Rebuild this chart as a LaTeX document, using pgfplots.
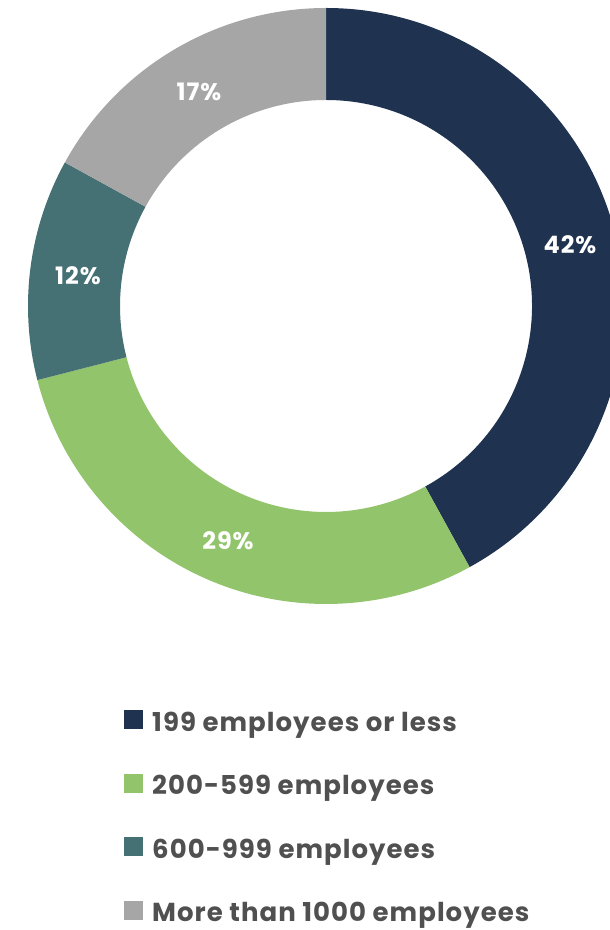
\documentclass[border=0pt]{standalone}
\usepackage{pgfplots}
\pgfplotsset{compat=1.18}
\usepackage{pgfplotstable}
\usepackage{fontspec}
\setmainfont{Poppins}
\newfontfamily\legfont[LetterSpace=4]{Poppins}
\definecolor{cA}{HTML}{1F3350}
\definecolor{cB}{HTML}{92C46C}
\definecolor{cC}{HTML}{457074}
\definecolor{cD}{HTML}{A6A6A6}
\definecolor{txt}{HTML}{505050}
% share (%) of each group, clockwise from 12 o'clock
\pgfplotstableread{
label share
A 42
B 29
C 12
D 17
}\sharetable
\def\Ro{298}
\def\Ri{206}
\begin{document}
\begin{tikzpicture}
\begin{axis}[
  scale only axis, width=610pt, height=930pt,
  xmin=-326, xmax=284, ymin=-624, ymax=306,
  hide axis, clip=true,
  legend style={at={(axis cs:-202,-404)}, anchor=north west, draw=none, fill=none,
    inner sep=0pt, row sep=38.5pt,
    font=\legfont\fontsize{26}{30}\selectfont\bfseries\color{txt},
    nodes={inner sep=0pt, text height=19pt, text depth=4pt},
    /tikz/every odd column/.append style={column sep=9pt}},
  legend cell align=left,
  legend image code/.code={\fill[#1, draw=none] (0pt,-5.5pt) rectangle (19pt,13.5pt);},
]
% slices: start angle 90, clockwise; angle = share*3.6
\pgfplotstablegetelem{0}{share}\of\sharetable \let\sA\pgfplotsretval
\pgfplotstablegetelem{1}{share}\of\sharetable \let\sB\pgfplotsretval
\pgfplotstablegetelem{2}{share}\of\sharetable \let\sC\pgfplotsretval
\pgfplotstablegetelem{3}{share}\of\sharetable \let\sD\pgfplotsretval
\pgfmathsetmacro\aA{90}
\pgfmathsetmacro\aB{90-\sA*3.6}
\pgfmathsetmacro\aC{\aB-\sB*3.6}
\pgfmathsetmacro\aD{\aC-\sC*3.6}
\pgfmathsetmacro\aE{\aD-\sD*3.6}
\addlegendimage{fill=cA}\addlegendentry{199 employees or less}
\addlegendimage{fill=cB}\addlegendentry{200-599 employees}
\addlegendimage{fill=cC}\addlegendentry{600-999 employees}
\addlegendimage{fill=cD}\addlegendentry{More than 1000 employees}
\edef\doslices{%
\noexpand\fill[cA] (axis cs:{\Ro*cos(\aA)},{\Ro*sin(\aA)}) arc[start angle=\aA, end angle=\aB, radius=\Ro pt] -- (axis cs:{\Ri*cos(\aB)},{\Ri*sin(\aB)}) arc[start angle=\aB, end angle=\aA, radius=\Ri pt] -- cycle;
\noexpand\fill[cB] (axis cs:{\Ro*cos(\aB)},{\Ro*sin(\aB)}) arc[start angle=\aB, end angle=\aC, radius=\Ro pt] -- (axis cs:{\Ri*cos(\aC)},{\Ri*sin(\aC)}) arc[start angle=\aC, end angle=\aB, radius=\Ri pt] -- cycle;
\noexpand\fill[cC] (axis cs:{\Ro*cos(\aC)},{\Ro*sin(\aC)}) arc[start angle=\aC, end angle=\aD, radius=\Ro pt] -- (axis cs:{\Ri*cos(\aD)},{\Ri*sin(\aD)}) arc[start angle=\aD, end angle=\aC, radius=\Ri pt] -- cycle;
\noexpand\fill[cD] (axis cs:{\Ro*cos(\aD)},{\Ro*sin(\aD)}) arc[start angle=\aD, end angle=\aE, radius=\Ro pt] -- (axis cs:{\Ri*cos(\aE)},{\Ri*sin(\aE)}) arc[start angle=\aE, end angle=\aD, radius=\Ri pt] -- cycle;
}
\doslices
\begin{scope}[every node/.style={white, font=\legfont\fontsize{24}{28}\selectfont\bfseries}]
\node at (axis cs:244,61) {42\%};
\node at (axis cs:-98,-235) {29\%};
\node at (axis cs:-248,30) {12\%};
\node at (axis cs:-127,214) {17\%};
\end{scope}
\end{axis}
\pgfresetboundingbox
\path (0,0) rectangle (610pt,930pt);
\end{tikzpicture}
\end{document}
